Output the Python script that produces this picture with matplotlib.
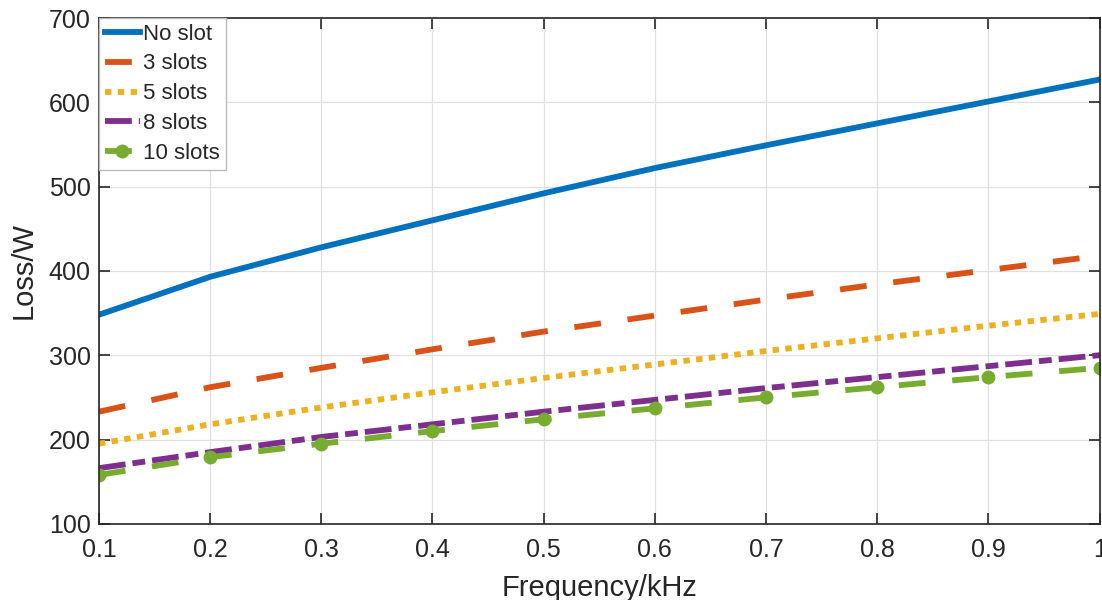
import numpy as np
import matplotlib
matplotlib.use('Agg')
from matplotlib import pyplot as plt

plt.rcParams['font.family'] = ['Liberation Sans', 'DejaVu Sans']

#%% Data
freq      = [0.1, 0.2, 0.3, 0.4, 0.5, 0.6, 0.7, 0.8, 0.9, 1.0]
no_slot   = [348, 393, 428, 460, 492, 522, 549, 575, 601, 627]
slots_3   = [233, 262, 285, 307, 328, 347, 366, 384, 401, 418]
slots_5   = [195, 218, 238, 256, 273, 289, 305, 320, 335, 349]
slots_8   = [166, 185, 203, 218, 233, 247, 261, 274, 287, 300]
slots_10  = [158, 179, 195, 210, 224, 237, 250, 262, 274, 285]
xticks    = [0.1, 0.2, 0.3, 0.4, 0.5, 0.6, 0.7, 0.8, 0.9, 1.0]
xtick_lab = ['0.1', '0.2', '0.3', '0.4', '0.5', '0.6', '0.7', '0.8', '0.9', '1']

#%% Plot
fig = plt.figure(figsize=(11.02, 6.0), dpi=100)
ax = fig.add_axes([0.0898, 0.127, 0.908, 0.843])

lw = 4.2
ax.plot(freq, no_slot, '-', color='#0072BD', lw=lw, label='No slot')
ax.plot(freq, slots_3, '--', color='#D95319', lw=lw, dashes=(4.6, 4.6), label='3 slots')
ax.plot(freq, slots_5, ':', color='#EDB120', lw=lw, dashes=(1.1, 1.1), label='5 slots')
ax.plot(freq, slots_8, '-.', color='#7E2F8E', lw=lw, dashes=(4.6, 1.2, 2.2, 1.2), label='8 slots')
ax.plot(freq, slots_10, '--', color='#77AC30', lw=lw, dashes=(4.6, 4.6), marker='o',
        markersize=9, markerfacecolor='#77AC30', label='10 slots')

ax.set_xlim(0.1, 1.0)
ax.set_ylim(100, 700)
ax.set_xticks(xticks)
ax.set_xticklabels(xtick_lab)
ax.set_yticks(np.arange(100, 701, 100))
ax.tick_params(direction='in', top=True, right=True, labelsize=18, length=8, width=1.2,
               colors='#262626')
ax.tick_params(axis='x', pad=10)
ax.tick_params(axis='y', pad=6)
for s in ax.spines.values():
    s.set_linewidth(1.2)
    s.set_color('#262626')
ax.grid(True, color='#e0e0e0', lw=0.9)
ax.set_axisbelow(True)

ax.set_xlabel('Frequency/kHz', fontsize=21, color='#262626', labelpad=9)
ax.set_ylabel('Loss/W', fontsize=21, color='#262626', labelpad=8)

leg = ax.legend(loc='upper left', fontsize=16, borderaxespad=0, handlelength=1.6,
                handletextpad=0.15, labelspacing=0.4, borderpad=0.25, fancybox=False,
                framealpha=1)
leg.get_frame().set_edgecolor('#bbbbbb')
leg.get_frame().set_linewidth(1.0)
for t in leg.get_texts():
    t.set_color('#262626')

fig.savefig('out.png', dpi=100)
